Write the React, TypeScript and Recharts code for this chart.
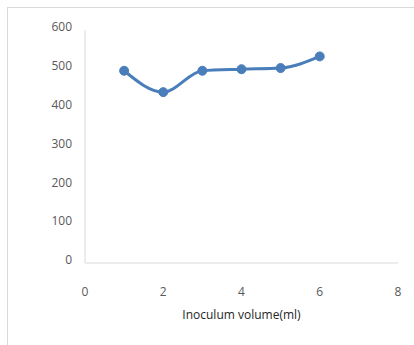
import { LineChart, Line, XAxis, YAxis } from "recharts";

const volumes = [1, 2, 3, 4, 5, 6];
const yields = [495, 440, 495, 499, 502, 532];
const xTicks = [0, 2, 4, 6, 8];
const yTicks = [0, 100, 200, 300, 400, 500, 600];

const data = volumes.map((v, i) => ({ volume: v, value: yields[i] }));

const tickStyle = { fontSize: 12, fill: "#595959", fontFamily: "Open Sans" };

function App() {
  return (
    <div
      style={{
        position: "absolute",
        left: 0,
        top: 0,
        width: 414,
        height: 345,
        background: "#fff",
      }}
    >
      <div
        style={{
          position: "absolute",
          left: 7,
          top: 7,
          width: 420,
          height: 360,
          border: "1px solid #d9d9d9",
        }}
      />
      <div style={{ position: "absolute", left: 0, top: 0 }}>
        <LineChart
          width={414}
          height={345}
          data={data}
          margin={{ top: 30, right: 16, left: 0, bottom: 22 }}
        >
          <XAxis
            dataKey="volume"
            type="number"
            domain={[0, 8]}
            ticks={xTicks}
            tickLine={false}
            axisLine={{ stroke: "#d9d9d9" }}
            tick={tickStyle}
            tickMargin={18}
            height={60}
            label={{
              value: "Inoculum volume(ml)",
              position: "insideBottom",
              offset: 4,
              style: { fontSize: 12, fill: "#262626", fontFamily: "Open Sans" },
            }}
          />
          <YAxis
            type="number"
            domain={[0, 600]}
            ticks={yTicks}
            tickLine={false}
            axisLine={{ stroke: "#d9d9d9" }}
            tick={{ ...tickStyle, dy: -3 }}
            tickMargin={7}
            width={85}
          />
          <Line
            type="monotone"
            dataKey="value"
            stroke="#4a7ebb"
            strokeWidth={3}
            dot={{ r: 4.5, fill: "#4a7ebb", stroke: "#4a7ebb", strokeWidth: 1 }}
            isAnimationActive={false}
          />
        </LineChart>
      </div>
    </div>
  );
}

export default App;
